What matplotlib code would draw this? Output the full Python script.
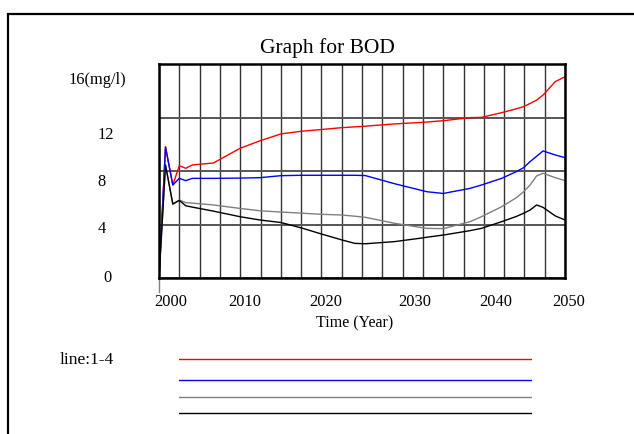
import matplotlib
matplotlib.use("Agg")
import matplotlib.pyplot as plt
from matplotlib.patches import Rectangle
import numpy as np

plt.rcParams['font.family'] = ['Liberation Serif', 'DejaVu Serif']

# ---- data ----
years = [2000, 2000.8, 2001.7, 2002.5, 2003.3, 2004.1, 2006.7, 2010, 2012.4, 2015,
         2017.5, 2020, 2022.5, 2024.1, 2025.4, 2029, 2032, 2033, 2035, 2038.3,
         2039.7, 2042.2, 2044, 2044.9, 2045.7, 2046.5, 2047.3, 2048.8, 2050]
line1 = [0, 9.8, 6.95, 8.4, 8.2, 8.45, 8.6, 9.7, 10.25, 10.77,
         10.97, 11.1, 11.24, 11.3, 11.35, 11.52, 11.62, 11.66, 11.76, 11.99,
         12.01, 12.36, 12.65, 12.81, 13.05, 13.3, 13.68, 14.68, 15.05]
line2 = [0, 9.8, 6.95, 7.45, 7.28, 7.45, 7.45, 7.47, 7.5, 7.65,
         7.68, 7.68, 7.68, 7.68, 7.66, 7.05, 6.6, 6.45, 6.32, 6.7,
         6.95, 7.45, 7.95, 8.25, 8.7, 9.1, 9.5, 9.2, 9.0]
line3 = [0, 8.45, 5.53, 5.83, 5.63, 5.6, 5.46, 5.2, 5.03, 4.93,
         4.85, 4.76, 4.71, 4.62, 4.54, 4.09, 3.8, 3.71, 3.69, 4.21,
         4.58, 5.33, 6.0, 6.45, 6.95, 7.63, 7.83, 7.5, 7.28]
line4 = [0, 8.45, 5.53, 5.8, 5.4, 5.3, 5.0, 4.58, 4.34, 4.15,
         3.75, 3.29, 2.85, 2.59, 2.56, 2.72, 2.96, 3.05, 3.21, 3.54,
         3.71, 4.21, 4.6, 4.84, 5.08, 5.46, 5.28, 4.64, 4.34]
series = [line1, line2, line3, line4]
colors = ['#ff0000', '#0000ff', '#808080', '#000000']
x_labels = ['2000', '2010', '2020', '2030', '2040', '2050']
y_labels = ['16(mg/l)', '12', '8', '4', '0']

W, H = 634, 434
fig = plt.figure(figsize=(W / 100, H / 100), dpi=100)

def fx(px):
    return px / W

def fy(py):
    return 1 - py / H

# outer frame (extends beyond the right and bottom edges)
fig.patches.append(Rectangle((fx(8), fy(500)), fx(700), fy(14) - fy(500),
                             transform=fig.transFigure, fill=False,
                             edgecolor='black', linewidth=1.6))

ax = fig.add_axes([fx(159), fy(278), fx(565) - fx(159), fy(64) - fy(278)])
ax.set_xlim(2000, 2050)
ax.set_ylim(0, 16)
ax.set_xticks(np.arange(2000, 2050.1, 2.5))
ax.set_yticks([0, 4, 8, 12, 16])
ax.tick_params(length=0, labelbottom=False, labelleft=False)
ax.grid(axis='x', color='#333333', linewidth=1.0)
ax.grid(axis='y', color='#555555', linewidth=1.4)
for s in ax.spines.values():
    s.set_linewidth(1.8)
    s.set_zorder(5)

for vals, c in zip(series, colors):
    ax.plot(years, vals, color=c, linewidth=1.0, zorder=3)

# small tick below the axis at the start time
ax.axvline(2000, ymin=-0.065, ymax=0, color='#808080', linewidth=1.0, clip_on=False)

# title and axis texts
fig.text(fx(327), fy(48), 'Graph for BOD', ha='center', va='center', fontsize=15.5)
x_label_px = [171, 245, 326, 415, 496, 569]
for lab, px in zip(x_labels, x_label_px):
    fig.text(fx(px), fy(302), lab, ha='center', va='center', fontsize=11.8)
fig.text(fx(355), fy(323), 'Time (Year)', ha='center', va='center', fontsize=11.5)

y_label_pos = [(97, 80), (106, 135), (102, 182), (102, 229), (108, 278)]
for lab, (px, py) in zip(y_labels, y_label_pos):
    fig.text(fx(px), fy(py), lab, ha='center', va='center', fontsize=11.8)

# legend
fig.text(fx(87), fy(360), 'line:1-4', ha='center', va='center', fontsize=12.5)
lax = fig.add_axes([fx(179), fy(420), fx(532) - fx(179), fy(352) - fy(420)])
lax.set_xlim(0, 1)
lax.set_ylim(420, 352)
lax.axis('off')
for c, py in zip(colors, [359.3, 380, 396.7, 412.7]):
    lax.axhline(py, color=c, linewidth=1.0)

fig.savefig('out.png', dpi=100)
